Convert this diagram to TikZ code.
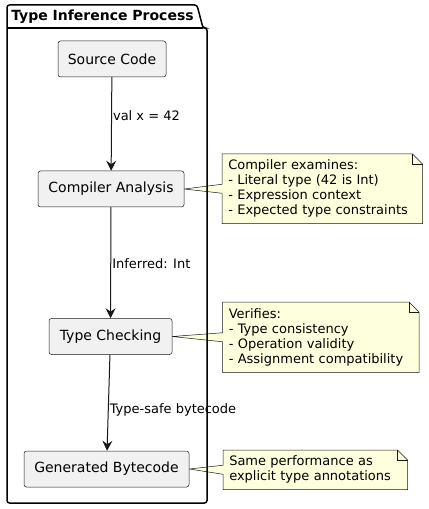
\documentclass[tikz,border=0pt]{standalone}
\usepackage{fontspec}
\setmainfont{DejaVu Sans}
\usetikzlibrary{arrows.meta,calc,backgrounds}
\definecolor{boxfill}{HTML}{F1F1F1}
\definecolor{linec}{HTML}{181818}
\definecolor{notefill}{HTML}{FEFFDD}
\newcommand\drawnote[2]{%
  \begin{scope}[on background layer]
    \filldraw[fill=notefill, draw=linec, line width=0.375pt]
      (#1.north west) -- ($(#1.north east)+(-10,0)$) -- ($(#1.north east)+(0,10)$)
      -- (#1.south east) -- (#1.south west) -- ($(#1.west)+(0,4.5)$)
      -- (#2.east) -- ($(#1.west)+(0,-4.5)$) -- cycle;
    \draw[draw=linec, line width=0.375pt]
      ($(#1.north east)+(-10,0)$) -- ($(#1.north east)+(-10,10)$) -- ($(#1.north east)+(0,10)$);
  \end{scope}}
\begin{document}
\begin{tikzpicture}[x=0.75pt,y=-0.75pt,
  procbox/.style={draw=linec, line width=0.375pt, fill=boxfill, rounded corners=1.9pt,
    minimum height=27pt, inner sep=0pt, font=\fontsize{10.5pt}{12.6pt}\selectfont},
  notebox/.style={inner xsep=4.5pt, inner ysep=0pt, align=left, anchor=north west,
    font=\fontsize{9.75pt}{11.25pt}\selectfont},
  flow/.style={draw=linec, line width=0.75pt, -{Stealth[length=7.5pt,width=7.5pt,inset=2.6pt]}},
  elabel/.style={anchor=west, inner sep=0.75pt, font=\fontsize{9.75pt}{11.25pt}\selectfont},
  frame/.style={draw=black, line width=1.125pt, rounded corners=1.9pt}]
\begin{scope}[on background layer]
  \fill[white] (0,0) rectangle (428,509);
\end{scope}
\useasboundingbox (0,0) rectangle (428,509);

% package frame
\draw[frame] (7,28) -- (7,5) -- (197,5) -- (203,28) -- (207,28) -- (207,503) -- (7,503) -- cycle;
\draw[line width=1.125pt] (7,28) -- (203,28);
\node[font=\bfseries\fontsize{10.5pt}{12.6pt}\selectfont, anchor=west, inner sep=0pt] (title) at (11,17) {Type Inference Process};

% process boxes
\node[procbox, minimum width=81pt] (src) at (112,59) {Source Code};
\node[procbox, minimum width=109.5pt] (ana) at (111,189) {Compiler Analysis};
\node[procbox, minimum width=92.25pt] (chk) at (110.5,336.5) {Type Checking};
\node[procbox, minimum width=123.75pt] (gen) at (106.5,469) {Generated Bytecode};

% connectors
\draw[flow] (src) -- node[elabel, pos=0.415] {val x = 42} (ana);
\draw[flow] (ana) -- node[elabel, pos=0.505] {Inferred: Int} (chk);
\draw[flow] (chk) -- node[elabel, pos=0.57] {Type-safe bytecode} (gen);

% notes
\node[notebox, text width=141pt, minimum height=51.75pt] (n1) at (222,154)
  {Compiler examines:\\- Literal type (42 is Int)\\- Expression context\\- Expected type constraints};
\node[notebox, text width=138pt, minimum height=52.5pt] (n2) at (222.5,302)
  {Verifies:\\- Type consistency\\- Operation validity\\- Assignment compatibility};
\node[notebox, text width=129pt, minimum height=29.25pt] (n3) at (223,450)
  {Same performance as\\explicit type annotations};
\drawnote{n1}{ana}
\drawnote{n2}{chk}
\drawnote{n3}{gen}
\end{tikzpicture}
\end{document}
